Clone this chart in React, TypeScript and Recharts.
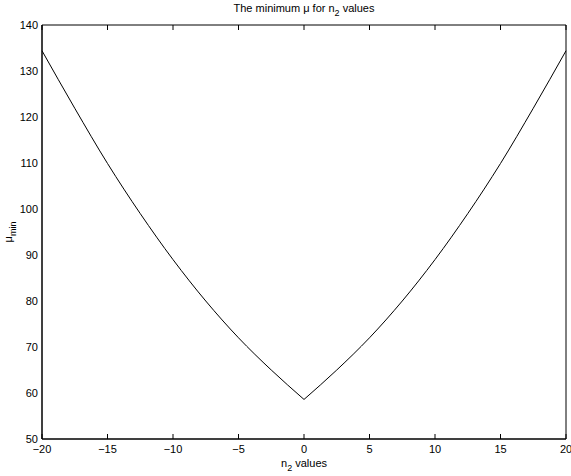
import { LineChart, Line, XAxis, YAxis, Label } from 'recharts'

// n2 values along the x axis
const nValues = [-20, -17.5, -15, -12.5, -10, -7.5, -5, -2.5, 0, 2.5, 5, 7.5, 10, 12.5, 15, 17.5, 20]
// minimum mu
const muMin = [134.4, 121.9, 109.9, 99.0, 89.0, 80.0, 72.0, 65.0, 58.6, 65.0, 72.0, 80.0, 89.0, 99.0, 109.9, 121.9, 134.4]

const xTicks = [-20, -15, -10, -5, 0, 5, 10, 15, 20]
const yTicks = [50, 60, 70, 80, 90, 100, 110, 120, 130, 140]

// split at the minimum so each branch can be smoothed while keeping the sharp corner
const data = nValues.map((n, i) => ({
  n,
  left: n <= 0 ? muMin[i] : null,
  right: n >= 0 ? muMin[i] : null,
}))

const FONT = '"Liberation Sans", Arial, Helvetica, sans-serif'
const fmt = (v: number) => String(v).replace('-', '\u2212')
const blank = () => ''

const XTitle = (props: any) => {
  const { x, y, width } = props.viewBox
  return (
    <text x={x + width / 2} y={y + 28} textAnchor="middle" fontSize={11} fontFamily={FONT} fill="#000">
      n<tspan fontSize={9} dy={4}>2</tspan><tspan dy={-4}> values</tspan>
    </text>
  )
}

const YTitle = (props: any) => {
  const { x, y, height } = props.viewBox
  const cx = x + 12
  const cy = y + height / 2
  return (
    <text x={cx} y={cy} transform={`rotate(-90 ${cx} ${cy})`} textAnchor="middle" fontSize={11} fontFamily={FONT} fill="#000">
      μ<tspan fontSize={9} dy={4}>min</tspan>
    </text>
  )
}

const PlotTitle = (props: any) => {
  const { x, y, width } = props.viewBox
  return (
    <text x={x + width / 2} y={y - 13} textAnchor="middle" fontSize={11} fontFamily={FONT} fill="#000">
      The minimum μ for n<tspan fontSize={9} dy={4}>2</tspan><tspan dy={-4}> values</tspan>
    </text>
  )
}

export default function App() {
  const axisStyle = { stroke: '#000', strokeWidth: 1 }
  const tickStyle = { fontSize: 11, fill: '#000', fontFamily: FONT }
  return (
    <div style={{ position: 'absolute', left: 0, top: 0, width: 571, height: 476, background: '#fff' }}>
      <LineChart width={571} height={476} data={data} margin={{ top: 25, right: 5, bottom: 0, left: 0 }}>
        <XAxis
          xAxisId="main"
          dataKey="n"
          type="number"
          domain={[-20, 20]}
          ticks={xTicks}
          tickFormatter={fmt}
          height={37}
          axisLine={axisStyle}
          tickLine={false}
          tickSize={0}
          tickMargin={6}
          tick={tickStyle}
          interval={0}
        >
          <Label content={XTitle} />
        </XAxis>
        <XAxis
          xAxisId="bottomIn"
          dataKey="n"
          type="number"
          domain={[-20, 20]}
          ticks={xTicks}
          mirror
          tickFormatter={blank}
          axisLine={axisStyle}
          tickLine={axisStyle}
          tickSize={5}
          interval={0}
        />
        <XAxis
          xAxisId="topIn"
          orientation="top"
          dataKey="n"
          type="number"
          domain={[-20, 20]}
          ticks={xTicks}
          mirror
          tickFormatter={blank}
          axisLine={axisStyle}
          tickLine={axisStyle}
          tickSize={5}
          interval={0}
        >
          <Label content={PlotTitle} />
        </XAxis>
        <YAxis
          yAxisId="main"
          type="number"
          domain={[50, 140]}
          ticks={yTicks}
          width={42}
          axisLine={axisStyle}
          tickLine={false}
          tickSize={0}
          tickMargin={4}
          tick={tickStyle}
          interval={0}
        >
          <Label content={YTitle} />
        </YAxis>
        <YAxis
          yAxisId="leftIn"
          type="number"
          domain={[50, 140]}
          ticks={yTicks}
          mirror
          tickFormatter={blank}
          axisLine={axisStyle}
          tickLine={axisStyle}
          tickSize={5}
          interval={0}
        />
        <YAxis
          yAxisId="rightIn"
          orientation="right"
          type="number"
          domain={[50, 140]}
          ticks={yTicks}
          mirror
          tickFormatter={blank}
          axisLine={axisStyle}
          tickLine={axisStyle}
          tickSize={5}
          interval={0}
        />
        <Line
          xAxisId="main"
          yAxisId="main"
          type="monotone"
          dataKey="left"
          stroke="#000"
          strokeWidth={1}
          dot={false}
          isAnimationActive={false}
        />
        <Line
          xAxisId="main"
          yAxisId="main"
          type="monotone"
          dataKey="right"
          stroke="#000"
          strokeWidth={1}
          dot={false}
          isAnimationActive={false}
        />
      </LineChart>
    </div>
  )
}
